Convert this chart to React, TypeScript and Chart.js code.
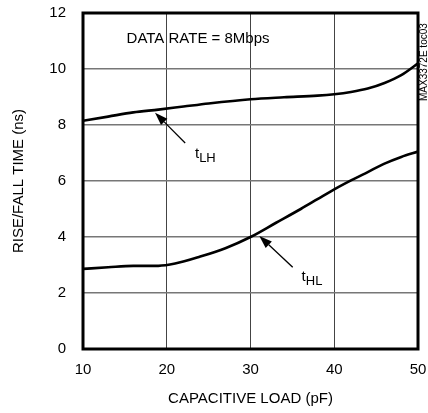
import React, { useEffect, useRef } from "react";
import { Chart, registerables } from "chart.js";
Chart.register(...registerables);

const loadLH = [10, 13, 16, 19, 22, 25, 30, 34, 38, 40, 42, 44, 46, 48, 50];
const tLH = [8.15, 8.3, 8.45, 8.55, 8.66, 8.77, 8.92, 8.99, 9.05, 9.1, 9.18, 9.3, 9.5, 9.78, 10.2];
const loadHL = [10, 13, 16, 19, 21, 24, 27, 30, 33, 36, 38, 40, 42, 44, 46, 48, 50];
const tHL = [2.86, 2.92, 2.97, 2.97, 3.05, 3.3, 3.6, 4.0, 4.5, 5.0, 5.35, 5.7, 6.02, 6.32, 6.62, 6.86, 7.05];

const xTicks = [10, 20, 30, 40, 50];
const yTicks = [0, 2, 4, 6, 8, 10, 12];

const FONT = '"Liberation Sans", Arial, sans-serif';

const annotationPlugin = {
  id: "annot",
  beforeDatasetsDraw(chart: any) {
    const { ctx, chartArea } = chart;
    ctx.save();
    ctx.strokeStyle = "#000";
    ctx.lineWidth = 3;
    ctx.strokeRect(chartArea.left, chartArea.top, chartArea.right - chartArea.left, chartArea.bottom - chartArea.top);
    ctx.restore();
  },
  afterDraw(chart: any) {
    const { ctx, chartArea } = chart;
    const xs = chart.scales.x;
    const ys = chart.scales.y;
    const px = (v: number) => xs.getPixelForValue(v);
    const py = (v: number) => ys.getPixelForValue(v);
    ctx.save();
    ctx.fillStyle = "#000";
    ctx.strokeStyle = "#000";
    ctx.textBaseline = "alphabetic";
    ctx.textAlign = "left";
    ctx.font = `15px ${FONT}`;
    ctx.fillText("DATA RATE = 8Mbps", px(15.2), py(10.94));

    const label = (main: string, sub: string, x: number, y: number) => {
      ctx.font = `15px ${FONT}`;
      ctx.fillText(main, x, y);
      const w = ctx.measureText(main).width;
      ctx.font = `13px ${FONT}`;
      ctx.fillText(sub, x + w, y + 4);
    };
    label("t", "LH", px(23.37), py(6.82));
    label("t", "HL", px(36.1), py(2.43));

    const arrow = (x0: number, y0: number, x1: number, y1: number) => {
      const ang = Math.atan2(y1 - y0, x1 - x0);
      const L = 13, H = 4.5;
      const bx = x1 - L * Math.cos(ang), by = y1 - L * Math.sin(ang);
      ctx.lineWidth = 1.3;
      ctx.beginPath();
      ctx.moveTo(x0, y0);
      ctx.lineTo(bx, by);
      ctx.stroke();
      ctx.beginPath();
      ctx.moveTo(x1, y1);
      ctx.lineTo(bx + H * Math.sin(ang), by - H * Math.cos(ang));
      ctx.lineTo(bx - H * Math.sin(ang), by + H * Math.cos(ang));
      ctx.closePath();
      ctx.fill();
    };
    arrow(px(22.2), py(7.36), px(18.6), py(8.44));
    arrow(px(35.04), py(2.92), px(31.05), py(4.04));

    ctx.font = `10px ${FONT}`;
    ctx.translate(chartArea.right + 6, chartArea.top + 88);
    ctx.rotate(-Math.PI / 2);
    ctx.textBaseline = "middle";
    ctx.fillText("MAX3372E toc03", 0, 0);
    ctx.restore();
  },
};

export default function App() {
  const ref = useRef<HTMLCanvasElement | null>(null);
  useEffect(() => {
    if (!ref.current) return;
    const chart = new Chart(ref.current, {
      type: "line",
      data: {
        datasets: [
          {
            label: "tLH",
            data: loadLH.map((x, i) => ({ x, y: tLH[i] })),
            borderColor: "#000",
            borderWidth: 2.6,
            pointRadius: 0,
            cubicInterpolationMode: "monotone",
          },
          {
            label: "tHL",
            data: loadHL.map((x, i) => ({ x, y: tHL[i] })),
            borderColor: "#000",
            borderWidth: 2.6,
            pointRadius: 0,
            cubicInterpolationMode: "monotone",
          },
        ],
      },
      options: {
        animation: false,
        responsive: false,
        devicePixelRatio: 1,
        layout: { padding: { top: 13, right: 10, left: 0, bottom: 0 } },
        plugins: { legend: { display: false }, tooltip: { enabled: false } },
        scales: {
          x: {
            type: "linear",
            min: 10,
            max: 50,
            afterBuildTicks: (s: any) => {
              s.ticks = xTicks.map((v) => ({ value: v }));
            },
            afterFit: (s: any) => {
              s.height = 64;
              s.paddingLeft = 0;
              s.paddingRight = 0;
            },
            ticks: { font: { size: 15, family: FONT }, color: "#000", padding: 12 },
            grid: { color: "#444", lineWidth: 1, drawTicks: false },
            border: { display: false },
            title: {
              display: true,
              text: "CAPACITIVE LOAD (pF)",
              font: { size: 15, family: FONT },
              color: "#000",
              padding: { top: 0, bottom: 5 },
            },
          },
          y: {
            type: "linear",
            min: 0,
            max: 12,
            afterBuildTicks: (s: any) => {
              s.ticks = yTicks.map((v) => ({ value: v }));
            },
            afterFit: (s: any) => {
              s.width = 83;
              s.paddingTop = 0;
              s.paddingBottom = 0;
            },
            ticks: { font: { size: 15, family: FONT }, color: "#000", padding: 17 },
            grid: { color: "#777", lineWidth: 1.6, drawTicks: false },
            border: { display: false },
            title: {
              display: true,
              text: "RISE/FALL TIME (ns)",
              font: { size: 15, family: FONT },
              color: "#000",
              padding: { top: 10, bottom: 0 },
            },
          },
        },
      },
      plugins: [annotationPlugin],
    } as any);
    return () => chart.destroy();
  }, []);
  return (
    <div style={{ position: "absolute", left: 0, top: 0, width: 428, height: 413, background: "#fff" }}>
      <canvas ref={ref} width={428} height={413} style={{ display: "block" }} />
    </div>
  );
}
